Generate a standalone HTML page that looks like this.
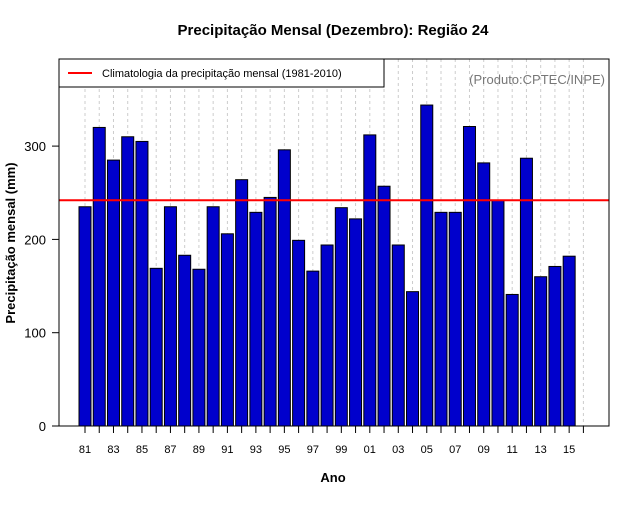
<!DOCTYPE html>
<html><head><meta charset="utf-8"><style>
body{margin:0;background:#fff}
svg text{font-family:"Liberation Sans",sans-serif}
</style></head><body>
<svg id="c" width="640" height="500" xmlns="http://www.w3.org/2000/svg">
<text x="333" y="35" text-anchor="middle" font-size="15" font-weight="bold">Precipitação Mensal (Dezembro): Região 24</text>
<g id="grid"></g><g id="bars"></g><g id="axes"></g>
<text x="333" y="482" text-anchor="middle" font-size="13" font-weight="bold">Ano</text>
<text transform="translate(15,243) rotate(-90)" text-anchor="middle" font-size="13" font-weight="bold">Precipitação mensal (mm)</text>
<text x="605" y="84" text-anchor="end" font-size="13" fill="#777">(Produto:CPTEC/INPE)</text>
<g>
<rect x="59" y="59" width="325" height="28" fill="#fff" stroke="#000"/>
<line x1="68" y1="73" x2="92" y2="73" stroke="red" stroke-width="2"/>
<text x="102" y="77" font-size="11">Climatologia da precipitação mensal (1981-2010)</text>
</g>
<rect x="59" y="59" width="550" height="367" fill="none" stroke="#000"/>
</svg>
<script>
const years=["81","82","83","84","85","86","87","88","89","90","91","92","93","94","95","96","97","98","99","00","01","02","03","04","05","06","07","08","09","10","11","12","13","14","15"];
const values=[235,320,285,310,305,169,235,183,168,235,206,264,229,245,296,199,166,194,234,222,312,257,194,144,344,229,229,321,282,242,141,287,160,171,182];
const climatology=[242];
const yTicks=[0,100,200,300];
const xTickLabels=["81","83","85","87","89","91","93","95","97","99","01","03","05","07","09","11","13","15"];
const NS="http://www.w3.org/2000/svg";
const xS=i=>85+i*14.24;
const yS=v=>426-v*0.933;
function mk(t,a,p){const e=document.createElementNS(NS,t);for(const k in a)e.setAttribute(k,a[k]);document.getElementById(p).appendChild(e);return e;}
for(let i=0;i<=years.length;i++){
 const g=mk('line',{x1:xS(i),x2:xS(i),y1:59,y2:426,stroke:'#ccc','stroke-dasharray':'3,3'},'grid');
 
 
 const t=mk('line',{x1:xS(i),x2:xS(i),y1:426,y2:433,stroke:'#000'},'axes');
 
 
}
values.forEach((v,i)=>{
 const r=mk('rect',{x:xS(i)-6,y:yS(v),width:12,height:426-yS(v),fill:'#0000cc',stroke:'#000'},'bars');
 
 
});
xTickLabels.forEach(l=>{
 const i=years.indexOf(l);
 const t=mk('text',{x:xS(i),y:453,'text-anchor':'middle','font-size':'11'},'axes');t.textContent=l;
 
 
});
yTicks.forEach(v=>{
 const l=mk('line',{x1:52,x2:59,y1:yS(v),y2:yS(v),stroke:'#000'},'axes');
 
 
 const t=mk('text',{x:46,y:yS(v)+5,'text-anchor':'end','font-size':'13'},'axes');t.textContent=v;
 
 
});
const c=mk('line',{x1:59,x2:609,y1:yS(climatology[0]),y2:yS(climatology[0]),stroke:'red','stroke-width':2},'axes');


</script>
</body></html>
